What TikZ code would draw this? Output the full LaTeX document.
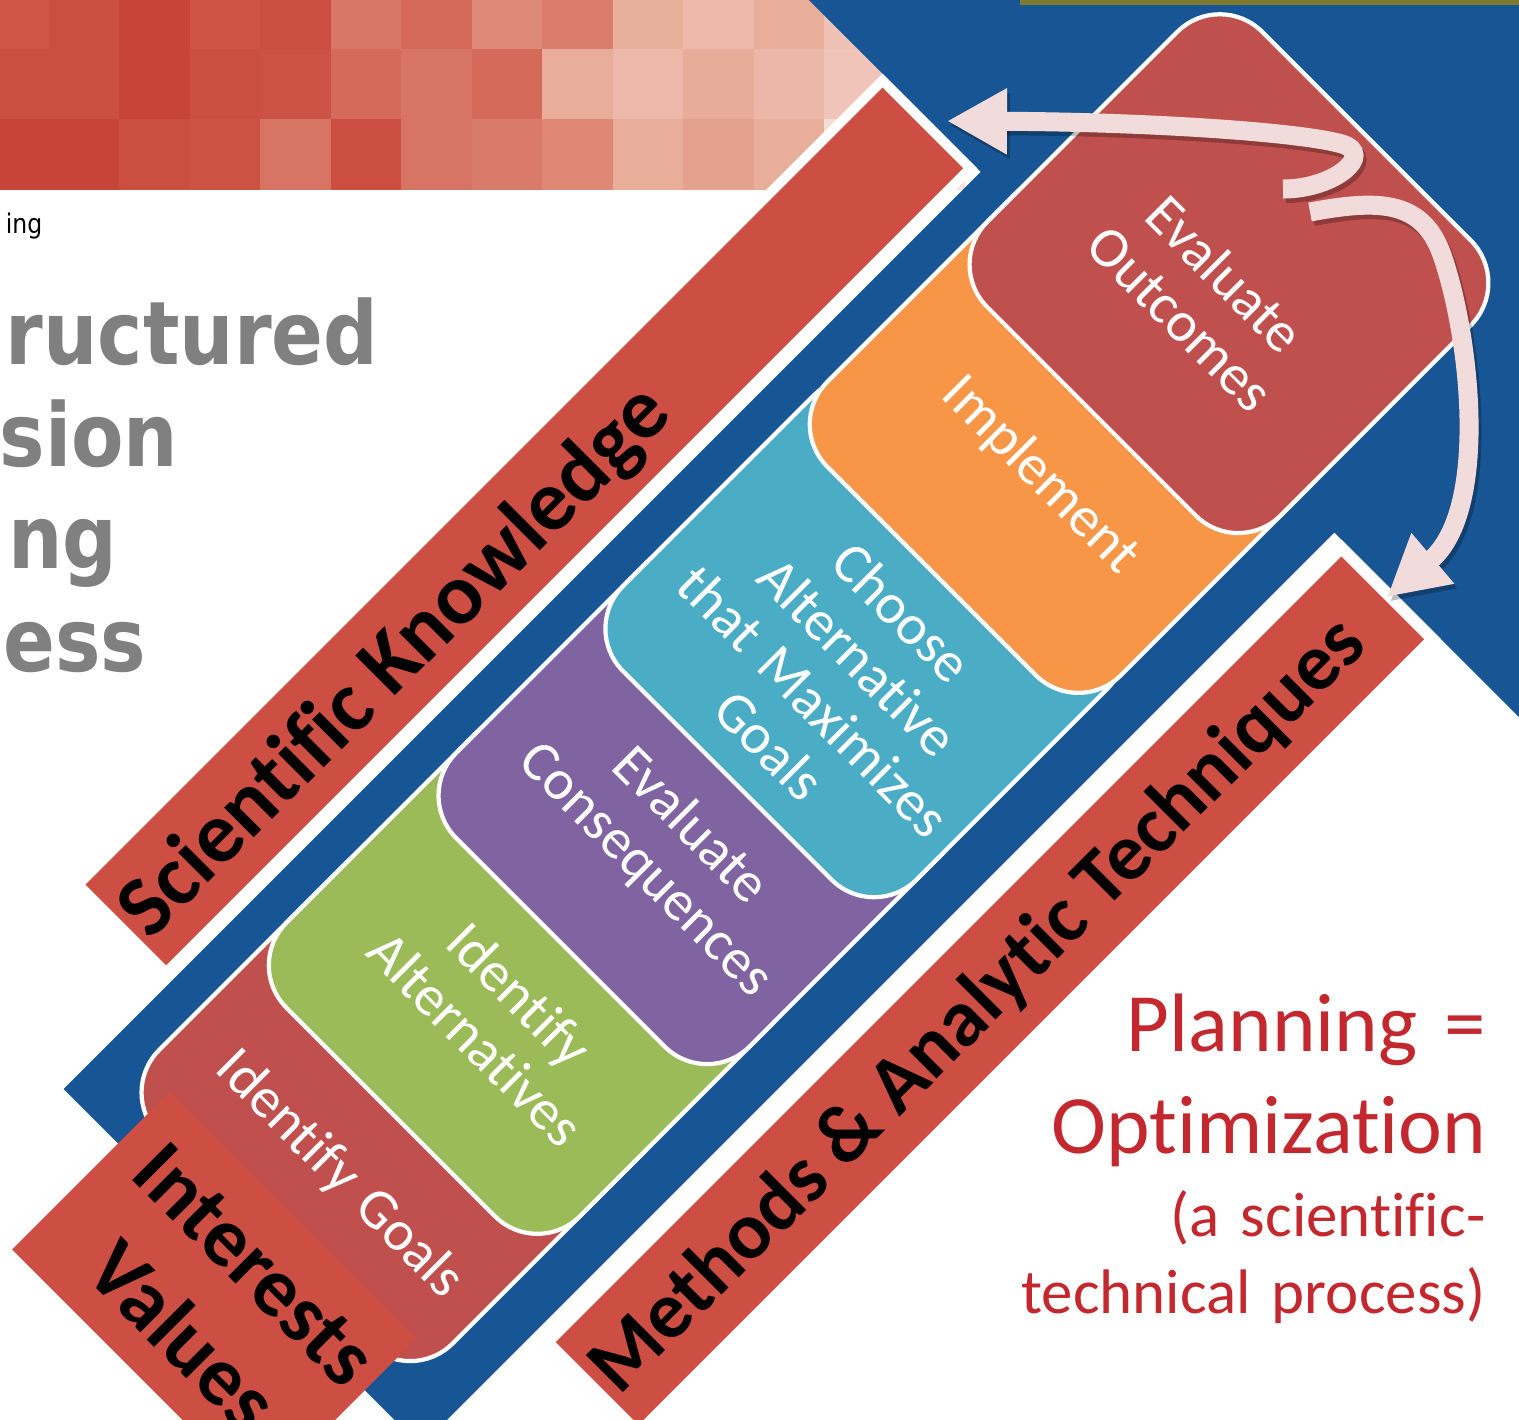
\documentclass[tikz,border=0pt]{standalone}
\usepackage{fontspec}
\setmainfont{Carlito}[Ligatures=CommonOff]
\newfontfamily\titlefont[FakeStretch=0.87]{DejaVu Sans}
\usetikzlibrary{arrows.meta}
\definecolor{bandblue}{HTML}{175594}
\definecolor{bandred}{HTML}{CD4F43}
\definecolor{stepred}{HTML}{C0504D}
\definecolor{stepgreen}{HTML}{9BBB59}
\definecolor{steppurple}{HTML}{8064A2}
\definecolor{stepteal}{HTML}{4BACC6}
\definecolor{steporange}{HTML}{F79646}
\definecolor{arrowpink}{HTML}{F2DCDB}
\definecolor{planred}{HTML}{C3282E}
\definecolor{titlegray}{HTML}{808080}
\definecolor{headolive}{HTML}{7D7A30}
\begin{document}
\begin{tikzpicture}[
    stepbox/.style={draw=white, line width=1.2pt, rounded corners=0.6cm},
    steptext/.style={text=white, font=\fontsize{16.2}{17.8}\selectfont, align=center, text width=4.4cm, anchor=base},
    bartext/.style={font=\bfseries\fontsize{#1}{#1}\selectfont, anchor=base west, rotate=90},
    titletext/.style={text=titlegray, font=\titlefont\bfseries\fontsize{25}{30}\selectfont, anchor=base east},
    plantext/.style={text=planred, align=right, text width=6cm, anchor=base east},
    cyclearrow/.style={line width=0.19cm, draw=arrowpink, -{Triangle[length=0.6cm,width=0.62cm]}},
    cycleshadow/.style={cyclearrow, draw=black, draw opacity=0.25, fill opacity=0.25, transform canvas={shift={(0.03,-0.045)}}}
  ]
    \tikzstyle{every node}+=[inner sep=0pt]
    \useasboundingbox (0,0) rectangle (15.19,-14.19);
    \clip (0,0) rectangle (15.19,-14.19);
    \fill [white] (0,0) rectangle (15.19,-14.19);
    \foreach \c [count=\i from 0] in {CF5547,CC4F43,C6443A,CF5447,CC4E42,D97767,D66A5A,DF8A78,DA7D6C,E8AF9B,ECB9AA,E8AE9A,EEC1B5,F0C8BC}
      {\definecolor{cell}{HTML}{\c}\fill [cell] (-0.22+0.705*\i,0.22) rectangle ++(0.705,-0.705);}
    \foreach \c [count=\i from 0] in {CC4F43,CC4F43,C6443A,CC4E42,CD5246,D56A5A,D87565,D5695A,E8AE9A,ECB8A9,E7AD99,EBB7A8,F0C4B8,F2D0C6}
      {\definecolor{cell}{HTML}{\c}\fill [cell] (-0.22+0.705*\i,-0.485) rectangle ++(0.705,-0.705);}
    \foreach \c [count=\i from 0] in {C6443A,C6443A,CB4E42,CD5246,D77464,CC4E42,D77464,D87B6A,DF8875,E8AE9A,E4A18E,E8AE9A,F3DED7,F4E2DC}
      {\definecolor{cell}{HTML}{\c}\fill [cell] (-0.22+0.705*\i,-1.19) rectangle ++(0.705,-0.705);}
    \node [font=\titlefont\fontsize{7.7}{9}\selectfont, anchor=base east] (header) at (0.43,-2.33) {ing};
    \node [titletext] (title1) at (3.79,-3.64) {ructured};
    \node [titletext] (title2) at (1.79,-4.66) {sion};
    \node [titletext] (title3) at (1.18,-5.68) {ng};
    \node [titletext] (title4) at (1.47,-6.71) {ess};
    \begin{scope}[rotate=-45, transform shape]
      \fill [bandblue] (8.15,-7.25) -- (13.2,-7.25) -- (13.2,5.67) -- (25,5.67) -- (25,25) -- (0,25) -- (0,5.72) -- (8.15,5.72) -- cycle;
      \fill [white] (6.76,-5.75) rectangle (8.1,5.72);
      \fill [bandred] (6.86,-5.65) rectangle (8.0,5.62);
      \fill [white] (13.3,-5.68) rectangle (14.71,5.67);
      \fill [bandred] (13.42,-5.56) rectangle (14.59,5.55);
      \draw [stepbox, fill=stepred] (8.55,-6.9) rectangle (12.7,-3.0);
      \draw [stepbox, fill=stepgreen] (8.55,-5.1) rectangle (12.7,-1.2);
      \draw [stepbox, fill=steppurple] (8.55,-2.7) rectangle (12.7,1.2);
      \draw [stepbox, fill=stepteal] (8.55,-0.34) rectangle (12.7,3.56);
      \draw [stepbox, fill=steporange] (8.55,2.55) rectangle (12.7,6.45);
      \draw [stepbox, fill=stepred] (8.55,4.81) rectangle (12.7,8.7);
      \fill [bandred] (8.92,-8.75) rectangle (12.41,-6.52);
      \node [steptext] (goals) at (10.71,-6.06) {Identify Goals};
      \node [steptext] (alternatives) at (10.71,-3.55) {Identify\\Alternatives};
      \node [steptext] (consequences) at (10.72,-1.12) {Evaluate\\Consequences};
      \node [steptext] (choose) at (10.71,1.855) {Choose\\Alternative\\that Maximizes\\Goals};
      \node [steptext] (implement) at (10.72,3.84) {Implement};
      \node [steptext] (outcomes) at (10.6,6.53) {Evaluate\\Outcomes};
      \node [bartext=24.6] (science) at (7.72,-5.6) {Scientific Knowledge};
      \node [bartext=23] (methods) at (14.26,-5.5) {Methods \& Analytic Techniques};
      \node [font=\bfseries\fontsize{23.9}{29}\selectfont, align=center, text width=4cm, anchor=base] (interests) at (10.74,-7.41) {Interests\\Values};
    \end{scope}
    \fill [headolive] (10.2,0) rectangle (15.19,-0.045);
    \coordinate (back1) at (12.83,-1.89);
    \coordinate (back2) at (9.47,-1.21);
    \coordinate (fwd1) at (13.1,-2.12);
    \coordinate (fwd2) at (13.87,-5.97);
    \draw [cycleshadow] (back1) .. controls (13.35,-1.89) and (13.75,-1.54) .. (13.42,-1.44) .. controls (13.0,-1.32) and (11.5,-1.22) .. (back2);
    \draw [cycleshadow] (fwd1) .. controls (13.75,-2.0) and (14.22,-1.98) .. (14.42,-2.55) .. controls (14.7,-3.35) and (14.9,-5.1) .. (fwd2);
    \draw [cyclearrow] (back1) .. controls (13.35,-1.89) and (13.75,-1.54) .. (13.42,-1.44) .. controls (13.0,-1.32) and (11.5,-1.22) .. (back2);
    \draw [cyclearrow] (fwd1) .. controls (13.75,-2.0) and (14.22,-1.98) .. (14.42,-2.55) .. controls (14.7,-3.35) and (14.9,-5.1) .. (fwd2);
    \node [plantext, font=\fontsize{23.6}{28.9}\selectfont] (planning) at (14.87,-10.517) {Planning =\\Optimization};
    \node [plantext, font=\fontsize{17.9}{21.8}\selectfont] (note) at (14.86,-12.367) {(a scientific-\\technical process)};
\end{tikzpicture}
\end{document}
